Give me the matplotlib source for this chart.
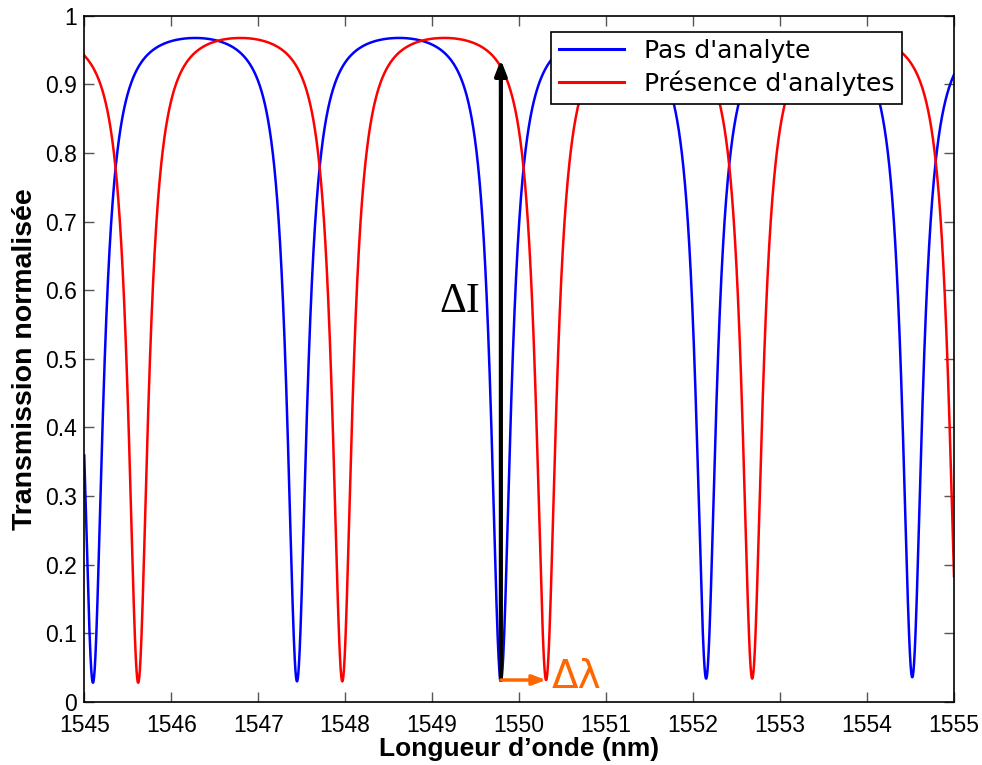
import numpy as np
import matplotlib
matplotlib.use("Agg")
import matplotlib.pyplot as plt
from matplotlib.ticker import FormatStrFormatter

# values
series_labels = ["Pas d'analyte", "Présence d'analytes"]
blue_dips_nm = [1545.10, 1547.446, 1549.79, 1552.15, 1554.52]
blue_min_T = [0.028, 0.030, 0.031, 0.034, 0.036]
red_dips_nm = [1545.62, 1547.967, 1550.31, 1552.68, 1555.06]
red_min_T = [0.028, 0.030, 0.032, 0.034, 0.035]
peak_T = 1.0        # asymptotic level of the Airy notch
finesse_F = 29.0    # coefficient fitted to the dip widths

xticks = [1545, 1546, 1547, 1548, 1549, 1550, 1551, 1552, 1553, 1554, 1555]
yticks = [0, 0.1, 0.2, 0.3, 0.4, 0.5, 0.6, 0.7, 0.8, 0.9, 1]

arrow_I = (1549.79, 0.032, 0.936)      # x, y start, y end
arrow_lam = (1549.79, 1550.31, 0.032)  # x start, x end, y


def notch_transmission(wl, dips, mins):
    dips = np.asarray(dips)
    m = np.interp(wl, dips, np.arange(len(dips)), left=np.nan, right=np.nan)
    lo, hi = wl < dips[0], wl > dips[-1]
    m[lo] = (wl[lo] - dips[0]) / (dips[1] - dips[0])
    m[hi] = len(dips) - 1 + (wl[hi] - dips[-1]) / (dips[-1] - dips[-2])
    k = np.clip(np.rint(m).astype(int), 0, len(dips) - 1)
    tmin = np.asarray(mins)[k]
    s2 = np.sin(np.pi * m) ** 2
    return tmin + (peak_T - tmin) * finesse_F * s2 / (1 + finesse_F * s2)


wl = np.linspace(1545, 1555, 6001)
t_blue = notch_transmission(wl, blue_dips_nm, blue_min_T)
t_red = notch_transmission(wl, red_dips_nm, red_min_T)

fig = plt.figure(figsize=(9.82, 7.65), dpi=100)
ax = fig.add_axes([0.0858, 0.0824, 0.8857, 0.897])

ax.plot(wl, t_blue, color="#0000FF", lw=1.8, label=series_labels[0])
ax.plot(wl, t_red, color="#FF0000", lw=1.8, label=series_labels[1])

# delta I (black) and delta lambda (orange) arrows
ax.annotate("", xy=(arrow_I[0], arrow_I[2]), xytext=(arrow_I[0], arrow_I[1]),
            arrowprops=dict(arrowstyle="-|>,head_length=0.9,head_width=0.35",
                            color="black", lw=3, shrinkA=0, shrinkB=0))
ax.annotate("", xy=(arrow_lam[1], arrow_lam[2]), xytext=(arrow_lam[0], arrow_lam[2]),
            arrowprops=dict(arrowstyle="-|>,head_length=0.8,head_width=0.3",
                            color="#FF6600", lw=2.5, shrinkA=0, shrinkB=0))
ax.text(1549.55, 0.583, "ΔI", fontsize=30, family="Liberation Serif",
        ha="right", va="center", color="black")
ax.text(1550.37, 0.036, "Δλ", fontsize=28, family="DejaVu Sans",
        ha="left", va="center", color="#FF6600")

ax.set_xlim(1545, 1555)
ax.set_ylim(0, 1)
ax.set_xticks(xticks)
ax.set_yticks(yticks)
ax.yaxis.set_major_formatter(FormatStrFormatter("%g"))
ax.tick_params(direction="in", length=7, width=1, color="#555555",
               top=True, right=True, labelsize=16.5, pad=5)
ax.tick_params(axis="x", pad=9)
for lab in ax.get_xticklabels() + ax.get_yticklabels():
    lab.set_family("Liberation Sans")
for sp in ax.spines.values():
    sp.set_linewidth(1.2)

ax.set_xlabel("Longueur d’onde (nm)", fontsize=19, fontweight="bold",
              family="Liberation Sans", labelpad=0)
ax.set_ylabel("Transmission normalisée", fontsize=20.5, fontweight="bold",
              family="Liberation Sans", labelpad=5)

leg = ax.legend(loc="upper right", bbox_to_anchor=(0.940, 0.977), borderaxespad=0,
                prop={"family": "DejaVu Sans", "size": 18},
                fancybox=False, framealpha=1, edgecolor="black",
                handlelength=2.6, handletextpad=0.8, borderpad=0.3,
                labelspacing=0.3)
leg.get_frame().set_linewidth(1.2)
for h in leg.get_lines():
    h.set_linewidth(2.2)

fig.savefig("out.png", dpi=100)
